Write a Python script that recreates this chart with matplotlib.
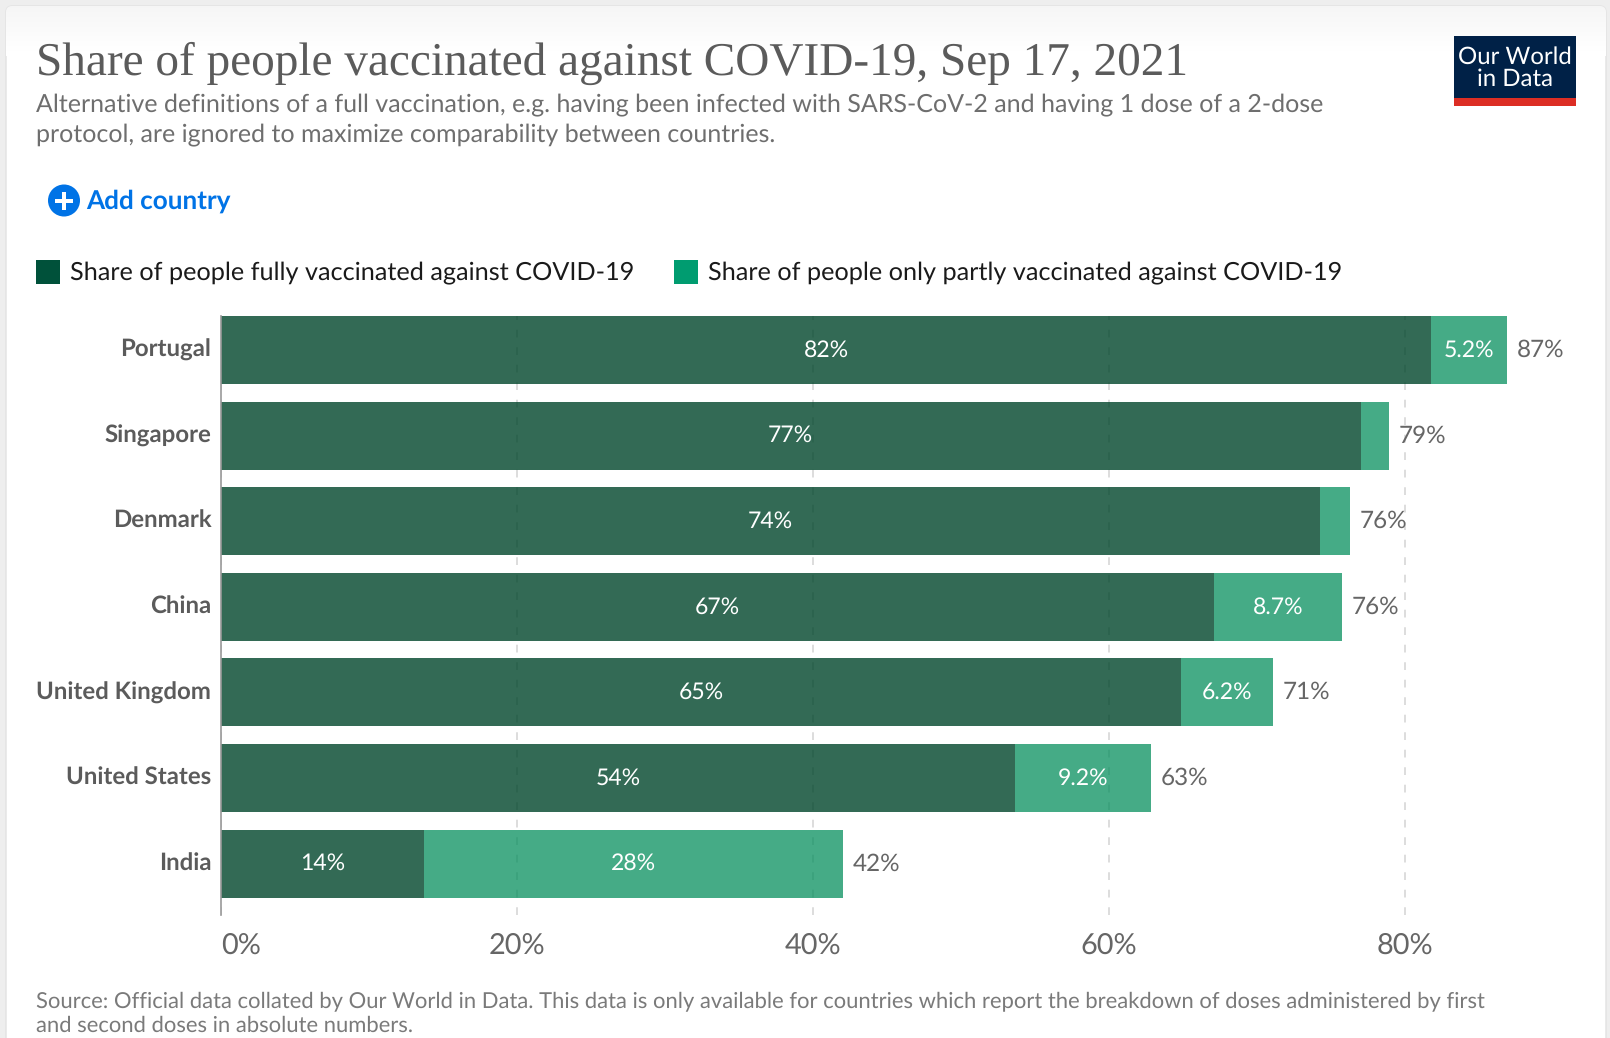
import matplotlib
matplotlib.use("Agg")
import matplotlib.pyplot as plt
import numpy as np
from matplotlib.patches import FancyBboxPatch, Circle, Rectangle
from matplotlib.transforms import ScaledTranslation

countries = ["Portugal", "Singapore", "Denmark", "China", "United Kingdom", "United States", "India"]
fully = [81.76, 77.0, 74.25, 67.1, 64.85, 53.65, 13.7]
partly = [5.14, 1.9, 2.05, 8.65, 6.25, 9.2, 28.3]
fully_labels = ["82%", "77%", "74%", "67%", "65%", "54%", "14%"]
partly_labels = ["5.2%", "", "", "8.7%", "6.2%", "9.2%", "28%"]
total_labels = ["87%", "79%", "76%", "76%", "71%", "63%", "42%"]
x_ticks = [0, 20, 40, 60, 80]
x_tick_labels = ["0%", "20%", "40%", "60%", "80%"]
title = "Share of people vaccinated against COVID-19, Sep 17, 2021"
subtitle = ("Alternative definitions of a full vaccination, e.g. having been infected with SARS-CoV-2 and having 1 dose of a 2-dose\n"
            "protocol, are ignored to maximize comparability between countries.")
source = ("Source: Official data collated by Our World in Data. This data is only available for countries which report the breakdown of doses administered by first\n"
          "and second doses in absolute numbers.")
legend_names = ["Share of people fully vaccinated against COVID-19", "Share of people only partly vaccinated against COVID-19"]

W, H = 1610, 1038
plt.rcParams["font.family"] = ["Lato", "DejaVu Sans"]
plt.rcParams["text.hinting"] = "none"
fig = plt.figure(figsize=(W / 100, H / 100), dpi=100, facecolor="#eeeeee")

# page furniture in pixel coordinates
bg = fig.add_axes([0, 0, 1, 1], zorder=0)
bg.set_xlim(0, W); bg.set_ylim(H, 0); bg.axis("off")
card = FancyBboxPatch((6, 6), 1600, 1100, boxstyle="round,pad=0,rounding_size=6", fc="white", ec="#e2e2e2", lw=1)
bg.add_patch(card)
grad = bg.imshow(np.linspace(0, 1, 50)[:, None], extent=(6, 1606, 56, 6), cmap="gray", vmin=-24, vmax=1,
                 aspect="auto", zorder=1.5)
grad.set_clip_path(card)
bg.set_xlim(0, W); bg.set_ylim(H, 0)

bg.text(36, 63, title, fontsize=34, family=["Liberation Serif"], color="#5b5b5b", va="center", ha="left", zorder=3)
bg.text(36, 119.5, subtitle, fontsize=18.0, color="#6e6e6e", va="center", ha="left", linespacing=1.41, zorder=3)

bg.add_patch(Circle((64, 200.5), 16, fc="#0073e6", ec="none", zorder=3))
bg.add_patch(Rectangle((55, 198.5), 18, 4, fc="white", ec="none", zorder=4))
bg.add_patch(Rectangle((62, 191.5), 4, 18, fc="white", ec="none", zorder=4))
bg.text(86, 201.5, "Add country", fontsize=18.8, fontweight="bold", color="#0073e6", va="center", ha="left", zorder=3)

bg.add_patch(Rectangle((36, 260), 24, 24, fc="#00513a", ec="none", zorder=3))
bg.text(70, 272.5, legend_names[0], fontsize=18.2, color="#1a1a1a", va="center", ha="left", zorder=3)
bg.add_patch(Rectangle((674, 260), 24, 24, fc="#009c70", ec="none", zorder=3))
bg.text(708, 272.5, legend_names[1], fontsize=18.2, color="#1a1a1a", va="center", ha="left", zorder=3)

bg.add_patch(Rectangle((1454, 36), 122, 70, fc="#002147", ec="none", zorder=3))
bg.add_patch(Rectangle((1454, 98), 122, 8, fc="#dc2e24", ec="none", zorder=4))
bg.text(1515, 68, "Our World\nin Data", fontsize=17.3, color="white", va="center", ha="center",
        linespacing=1.06, zorder=5)

bg.text(36, 1013.5, source, fontsize=15.82, color="#7a7a7a", va="center", ha="left", linespacing=1.28, zorder=3)

# chart
ax_l, ax_r, ax_t, ax_b = 221, 1560, 316, 915
ax = fig.add_axes([ax_l / W, 1 - ax_b / H, (ax_r - ax_l) / W, (ax_b - ax_t) / H], zorder=1)
ax.patch.set_alpha(0)
ax.set_xlim(0, (ax_r - ax_l) / 14.8)
ax.set_ylim(6.60, -0.397)
y = np.arange(len(countries))
ax.set_axisbelow(True)
ax.xaxis.grid(True, color="#dddddd", lw=1.4, linestyle=(0, (4, 5)))
ax.yaxis.grid(False)
ax.barh(y, fully, height=0.795, color="#00452a", alpha=0.8, linewidth=0)
ax.barh(y, partly, left=fully, height=0.795, color="#008c5a", alpha=0.73, linewidth=0)

for i in y:
    ax.annotate(fully_labels[i], (fully[i] / 2, i), ha="center", va="center", color="white", fontsize=16.6)
    if partly_labels[i]:
        ax.annotate(partly_labels[i], (fully[i] + partly[i] / 2, i), ha="center", va="center", color="white", fontsize=16.6)
    ax.annotate(total_labels[i], (fully[i] + partly[i], i), xytext=(7, 0), textcoords="offset points",
                ha="left", va="center", color="#666666", fontsize=17.5)

for s in ["top", "right", "bottom"]:
    ax.spines[s].set_visible(False)
ax.spines["left"].set_color("#999999")
ax.spines["left"].set_linewidth(1.2)

ax.set_yticks(y, countries, fontsize=17.3, fontweight="bold", color="#5b5b5b")
ax.tick_params(axis="y", length=0, pad=7)
lift = ScaledTranslation(0, 2 / 100, fig.dpi_scale_trans)
for lab in ax.get_yticklabels():
    lab.set_transform(lab.get_transform() + lift)
ax.set_xticks(x_ticks, x_tick_labels, fontsize=20.8, color="#666666")
ax.tick_params(axis="x", length=0, pad=12.5)
ax.get_xticklabels()[0].set_ha("left")

fig.savefig("out.png", dpi=100, facecolor=fig.get_facecolor())
